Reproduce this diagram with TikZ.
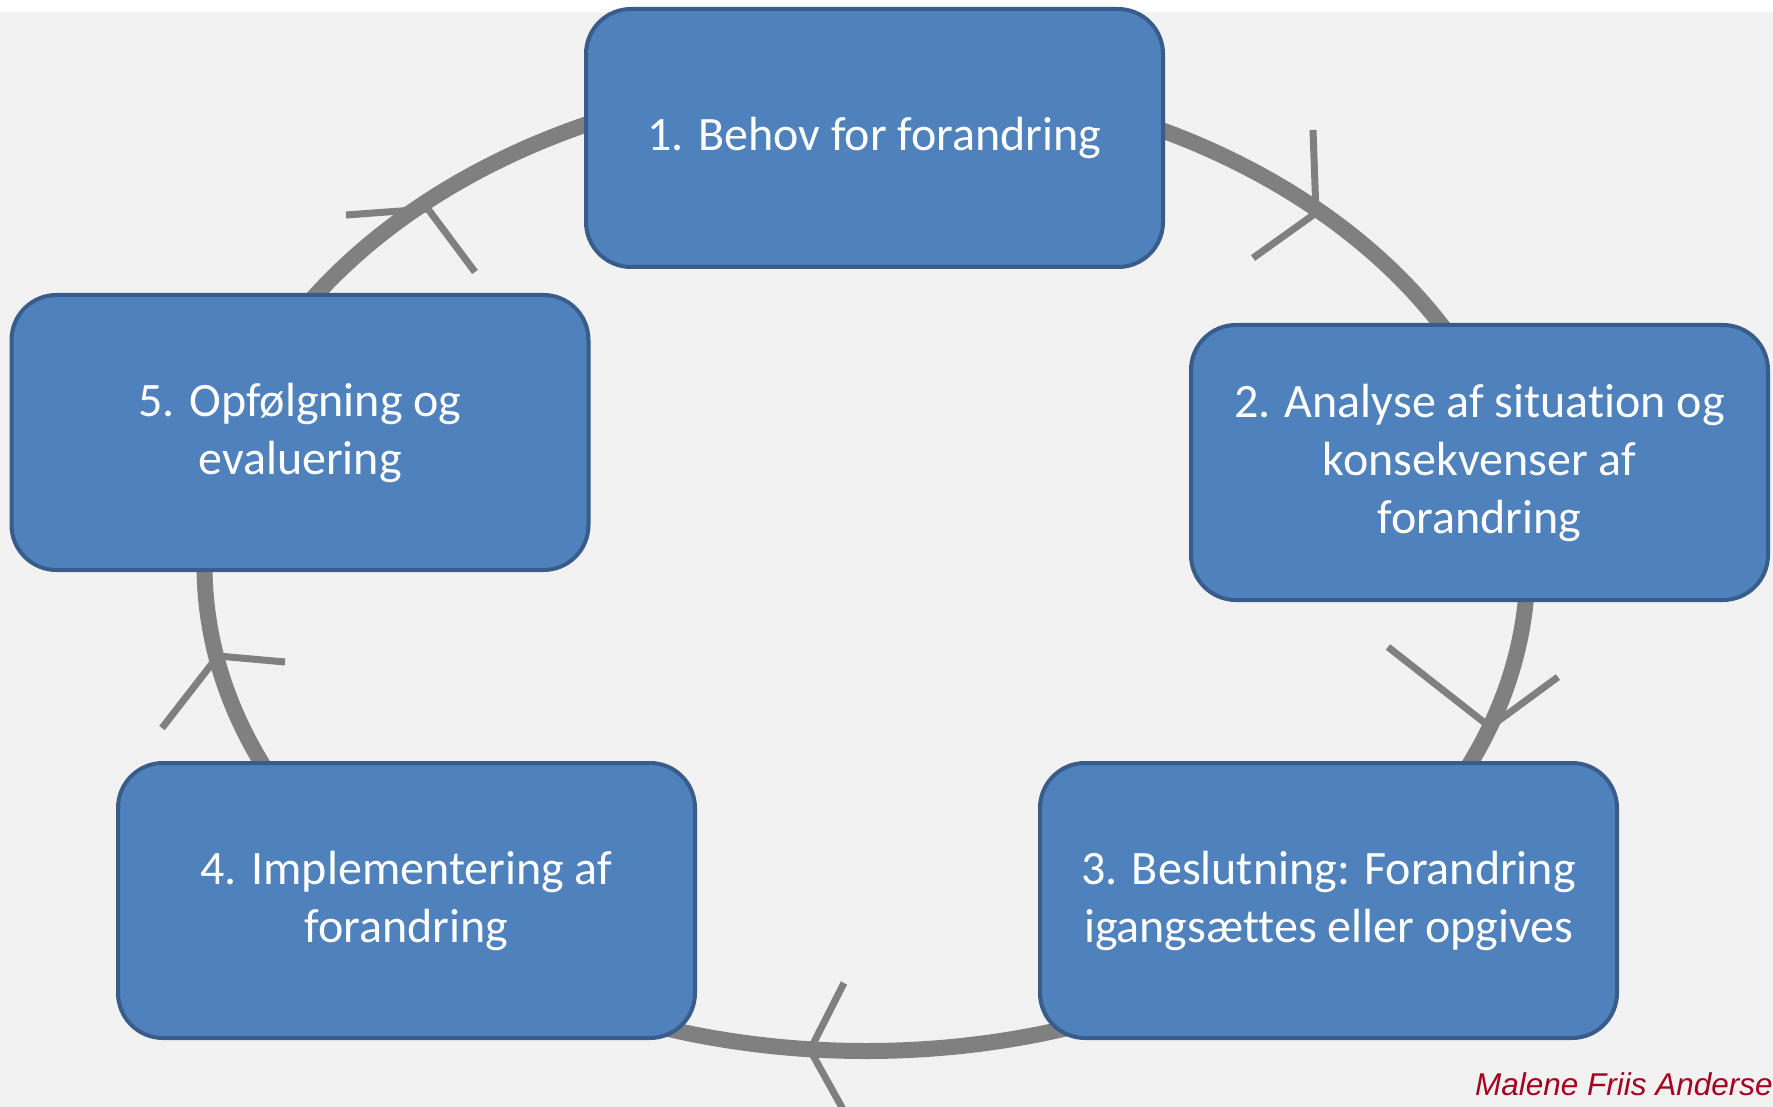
\documentclass[tikz,border=0pt]{standalone}
\usepackage{fontspec}
\setmainfont{Carlito}[Ligatures=NoCommon]
\newfontfamily\creditfont{Liberation Sans}
\definecolor{boxfill}{HTML}{4F81BD}
\definecolor{boxline}{HTML}{385D8A}
\definecolor{ringgray}{HTML}{808080}
\definecolor{bggray}{HTML}{F2F2F2}
\definecolor{creditred}{HTML}{A50021}
\begin{document}
\begin{tikzpicture}[x=1pt,y=-1pt,
  stage/.style={draw=boxline, fill=boxfill, line width=4pt, rounded corners=45pt,
    minimum width=577pt, minimum height=275pt, text=white, align=center,
    font=\fontsize{48}{58}\selectfont, inner sep=0pt},
  ring/.style={draw=ringgray, line width=16pt},
  tickmark/.style={draw=ringgray, line width=7pt}]
\path[use as bounding box] (0,0) rectangle (1773,1107);
\clip (0,0) rectangle (1773,1107);
\fill[white] (0,0) rectangle (1773,1107);
\fill[bggray] (0,12) rectangle (1773,1107);
% cycle ring
\draw[ring] (866,565) ellipse [x radius=661.5, y radius=486];
% direction marks
\draw[tickmark] (346,215) -- (428,209) -- (475,272);
\draw[tickmark] (1313,130) -- (1316,213) -- (1253,258);
\draw[tickmark] (1388,647) -- (1490,727) -- (1558,677);
\draw[tickmark] (844,983) -- (810,1050) -- (849,1120);
\draw[tickmark] (162,728) -- (218,656) -- (285,662);
% stages
\node[stage, minimum height=258pt] (b1) at (874.5,138) {1. Behov for forandring};
\node[stage] (b2) at (1479.5,462.5) {2. Analyse af situation og\\konsekvenser af\\forandring};
\node[stage] (b3) at (1328.5,900.5) {3. Beslutning: Forandring\\igangsættes eller opgives};
\node[stage] (b4) at (406.5,900.5) {4. Implementering af\\forandring};
\node[stage] (b5) at (300,432.5) {5. Opfølgning og\\evaluering};
% credit
\node[anchor=base east, inner sep=0pt, text=creditred,
  font=\creditfont\itshape\fontsize{31.5}{36}\selectfont] (credit) at (1773,1095) {Malene Friis Anderse};
\end{tikzpicture}
\end{document}
